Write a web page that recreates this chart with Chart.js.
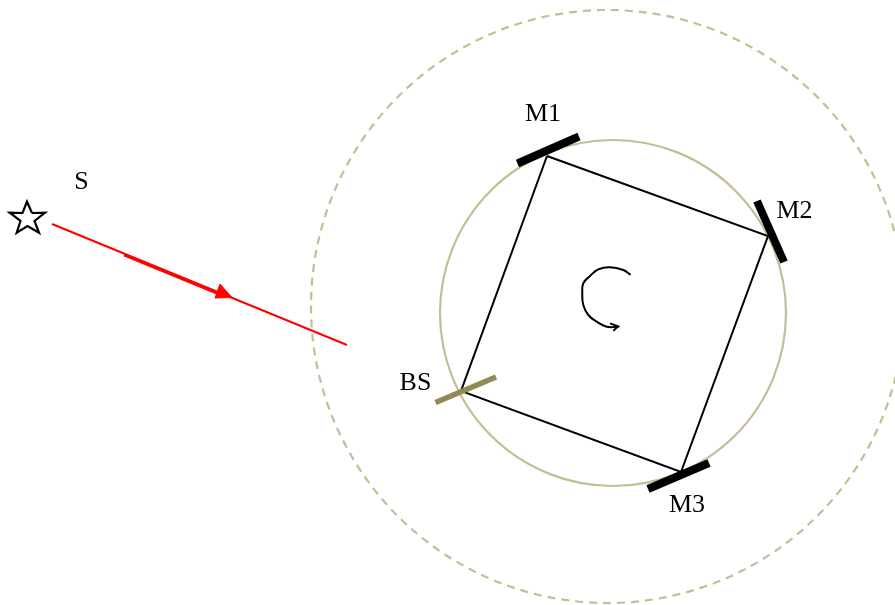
<!DOCTYPE html>
<html>
<head>
<meta charset="utf-8">
<title>Ring cavity</title>
<script src="https://cdn.jsdelivr.net/npm/chart.js@4"></script>
<style>
  html, body { margin: 0; padding: 0; background: #fff; }
  canvas { display: block; }
</style>
</head>
<body>
<canvas id="myChart" width="895" height="605"></canvas>
<script>
// data, in pixel units of the reference
const innerRingCentre = [{x: 613, y: 313}];
const outerRingCentre = [{x: 607.5, y: 306.5}];
const innerRingRadius = 173;
const outerRingRadius = 296.5;

const cavity = [{x: 547, y: 156}, {x: 768, y: 236}, {x: 681, y: 472}, {x: 461, y: 391}, {x: 547, y: 156}];
const mirror1 = [{x: 517.5, y: 163.5}, {x: 579, y: 136.5}];
const mirror2 = [{x: 757, y: 201}, {x: 784, y: 262}];
const mirror3 = [{x: 648, y: 489}, {x: 709, y: 463}];
const splitter = [{x: 435.5, y: 402.5}, {x: 496, y: 377}];

const star = [
  {x: 32, y: 213}, {x: 45, y: 212.7}, {x: 34.5, y: 221}, {x: 39, y: 232.7}, {x: 27.5, y: 226},
  {x: 16.7, y: 232.7}, {x: 20.5, y: 221}, {x: 9.7, y: 212.7}, {x: 22.5, y: 213}, {x: 27, y: 201.7},
  {x: 32, y: 213}
];

const beam = [{x: 52, y: 224}, {x: 347, y: 345}];
const beamThick = [{x: 124, y: 255}, {x: 220, y: 294.5}];
const beamHead = [{x: 232, y: 297.5}, {x: 220, y: 284}, {x: 215, y: 298}, {x: 232, y: 297.5}];

const curl = [
  {x: 630, y: 274.3}, {x: 623.3, y: 270}, {x: 610, y: 267.3}, {x: 598.3, y: 269.3}, {x: 590, y: 276},
  {x: 583.3, y: 283.3}, {x: 582.3, y: 293.3}, {x: 583.3, y: 305}, {x: 588.3, y: 315}, {x: 596.7, y: 321.7},
  {x: 606.7, y: 326.7}, {x: 618.3, y: 326.7}
];
const curlHead = [{x: 610, y: 323.3}, {x: 618.3, y: 326.3}, {x: 613.3, y: 330.7}];

const labelNames = ['S', 'M1', 'M2', 'M3', 'BS'];
const labelX = [81.5, 543, 794.5, 687, 415.5];
const labelY = [182, 114, 211, 505, 383];

const ringColor = '#c4bd97';

function path(points, color, width, extra) {
  return Object.assign({
    data: points,
    showLine: true,
    borderColor: color,
    borderWidth: width,
    borderCapStyle: 'butt',
    pointRadius: 0,
    tension: 0,
    fill: false
  }, extra);
}

function ring(centre, radius, width, dash) {
  return {
    data: centre,
    showLine: false,
    pointStyle: 'circle',
    pointRadius: radius,
    pointBorderColor: ringColor,
    pointBorderWidth: width,
    pointBackgroundColor: 'transparent',
    ringDash: dash
  };
}

// the first dataset in this list ends up on top
const datasets = [
  path(mirror1, '#000', 8),
  path(mirror2, '#000', 8),
  path(mirror3, '#000', 8),
  path(splitter, '#938953', 5.5),
  path(cavity, '#000', 2),
  path(curlHead, '#000', 1.8),
  path(curl, '#000', 2, {tension: 0.45, borderCapStyle: 'round'}),
  path(star, '#000', 2.2, {borderJoinStyle: 'miter'}),
  path(beamHead, '#f00', 1, {fill: 'shape', backgroundColor: '#f00'}),
  path(beamThick, '#f00', 2.6),
  path(beam, '#f00', 2),
  ring(innerRingCentre, innerRingRadius, 2.2, []),
  ring(outerRingCentre, outerRingRadius, 2.2, [8, 6])
];

// points have no dash option, so set it on the context around the dataset
const ringDashPlugin = {
  id: 'ringDash',
  beforeDatasetDraw(chart, args) {
    const dash = chart.data.datasets[args.index].ringDash;
    chart.ctx.save();
    if (dash) chart.ctx.setLineDash(dash);
  },
  afterDatasetDraw(chart) {
    chart.ctx.restore();
  }
};

const labelPlugin = {
  id: 'labels',
  afterDatasetsDraw(chart) {
    const ctx = chart.ctx;
    ctx.save();
    ctx.fillStyle = '#000';
    ctx.font = '26px "Liberation Serif"';
    ctx.textAlign = 'center';
    ctx.textBaseline = 'middle';
    labelNames.forEach(function(name, i) {
      ctx.fillText(name, chart.scales.x.getPixelForValue(labelX[i]), chart.scales.y.getPixelForValue(labelY[i]));
    });
    ctx.restore();
  }
};

const myChart = new Chart(document.getElementById('myChart'), {
  type: 'scatter',
  data: {datasets: datasets},
  options: {
    responsive: false,
    animation: false,
    devicePixelRatio: 1,
    layout: {padding: 0, autoPadding: false},
    plugins: {legend: {display: false}, tooltip: {enabled: false}},
    scales: {
      x: {type: 'linear', display: false, min: 0, max: 895},
      y: {type: 'linear', display: false, min: 0, max: 605, reverse: true}
    }
  },
  plugins: [ringDashPlugin, labelPlugin]
});
</script>
</body>
</html>
